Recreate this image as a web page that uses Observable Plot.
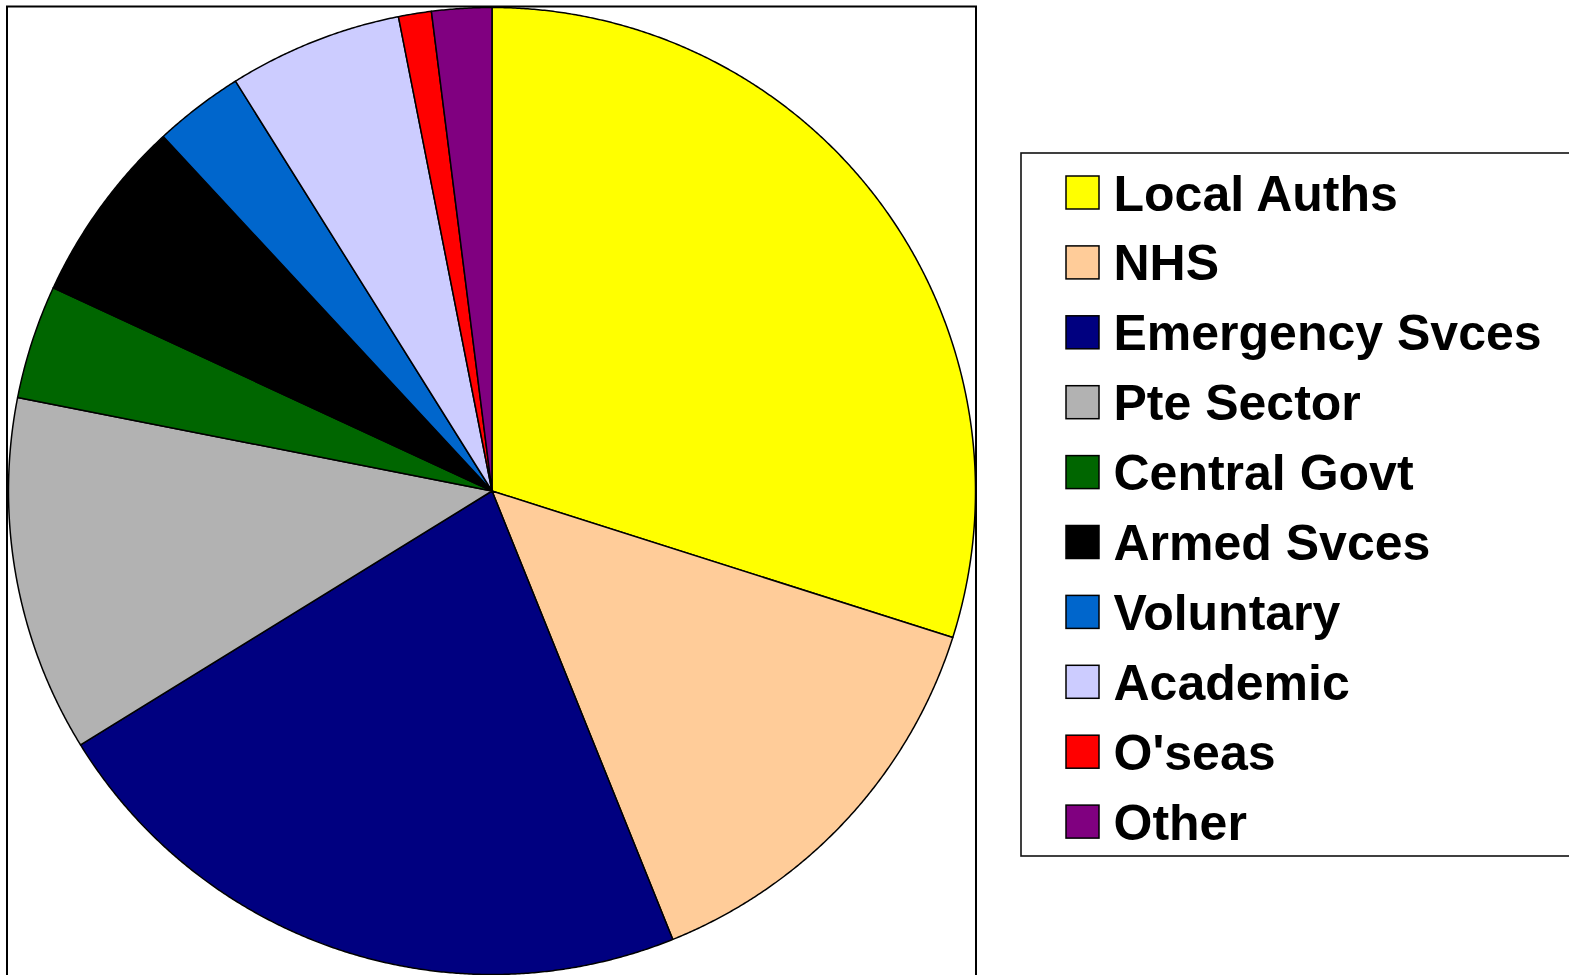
<!DOCTYPE html>
<html>
<head>
<meta charset="utf-8">
<script src="https://cdn.jsdelivr.net/npm/d3@7"></script>
<script src="https://cdn.jsdelivr.net/npm/@observablehq/plot@0.6"></script>
<style>
  html, body { margin: 0; padding: 0; background: #fff; overflow: hidden; }
  #chart svg { display: block; }
</style>
</head>
<body>
<div id="chart"></div>
<script>
// Data (percent shares)
const categories = ["Local Auths", "NHS", "Emergency Svces", "Pte Sector", "Central Govt",
                    "Armed Svces", "Voluntary", "Academic", "O'seas", "Other"];
const shares = [29.9, 14.0, 22.3, 11.9, 3.8, 6.2, 3.0, 5.8, 1.1, 2.0];
const colors = ["#ffff00", "#ffcc99", "#000080", "#b2b2b2", "#006600",
                "#000000", "#0066cc", "#ccccff", "#ff0000", "#800080"];

// Layout
const W = 1569, H = 975;
const CX = 491.5, CY = 490.5, R = 483.5;

const data = categories.map((c, i) => ({cat: c, value: shares[i]}));
const arcs = d3.pie().sort(null).value(d => d.value)(data);

// Polygon points for each slice (angles clockwise from 12 o'clock)
const pts = [];
for (const a of arcs) {
  const cat = a.data.cat;
  pts.push({cat, x: CX, y: CY});
  const n = Math.max(2, Math.ceil((a.endAngle - a.startAngle) / (Math.PI / 720)));
  for (let k = 0; k <= n; k++) {
    const t = a.startAngle + (a.endAngle - a.startAngle) * k / n;
    pts.push({cat, x: CX + R * Math.sin(t), y: CY - R * Math.cos(t)});
  }
  pts.push({cat, x: CX, y: CY});
}

// Legend rows
const LEG_TOP = 192.5, LEG_STEP = 69.9;
const legend = categories.map((c, i) => ({cat: c, yc: LEG_TOP + i * LEG_STEP}));

const plot = Plot.plot({
  width: W, height: H,
  margin: 0,
  x: {domain: [0, W], range: [0, W], axis: null},
  y: {domain: [0, H], range: [0, H], axis: null},
  color: {domain: categories, range: colors},
  style: {fontFamily: "'Liberation Sans', Arial, sans-serif", background: "#fff"},
  marks: [
    // chart frame
    Plot.rect([0], {x1: 7, x2: 976, y1: 6.5, y2: 1000, fill: "none", stroke: "#000", strokeWidth: 2}),
    // pie slices
    Plot.line(pts, {x: "x", y: "y", z: "cat", fill: "cat", stroke: "#000", strokeWidth: 1.5,
                    strokeLinejoin: "round", curve: "linear"}),
    // legend box
    Plot.rect([0], {x1: 1021, x2: 1620, y1: 153, y2: 856, fill: "none", stroke: "#111", strokeWidth: 1.6}),
    // legend swatches
    Plot.rect(legend, {x1: 1066, x2: 1099, y1: d => d.yc - 16.5, y2: d => d.yc + 16.5,
                       fill: "cat", stroke: "#000", strokeWidth: 1.5}),
    // legend labels
    Plot.text(legend, {x: 1113, y: "yc", text: "cat", textAnchor: "start", lineAnchor: "middle",
                       dy: 1.5, fontSize: 50, fontWeight: "bold", fill: "#000"})
  ]
});
document.getElementById("chart").append(plot);
</script>
</body>
</html>
